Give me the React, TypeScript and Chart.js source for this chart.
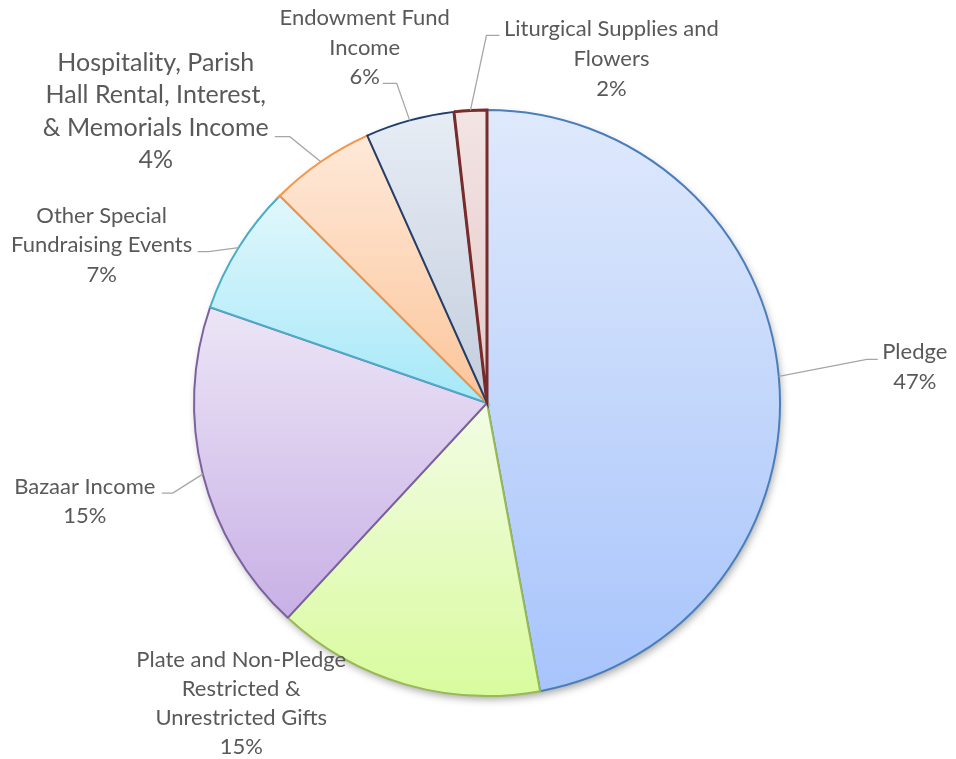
import React, { useEffect, useRef } from "react";
import { Chart, registerables } from "chart.js";

Chart.register(...registerables);

// ---------- data ----------
const categories = [
  "Pledge",
  "Plate and Non-Pledge Restricted & Unrestricted Gifts",
  "Bazaar Income",
  "Other Special Fundraising Events",
  "Hospitality, Parish Hall Rental, Interest, & Memorials Income",
  "Endowment Fund Income",
  "Liturgical Supplies and Flowers",
];
const values = [47.1, 14.8, 18.4, 7.2, 5.8, 4.9, 1.8];
const percentLabels = ["47%", "15%", "15%", "7%", "4%", "6%", "2%"];
const labelLines = [
  ["Pledge"],
  ["Plate and Non-Pledge", "Restricted &", "Unrestricted Gifts"],
  ["Bazaar Income"],
  ["Other Special", "Fundraising Events"],
  ["Hospitality, Parish", "Hall Rental, Interest,", "& Memorials Income"],
  ["Endowment Fund", "Income"],
  ["Liturgical Supplies and", "Flowers"],
];

// ---------- styles ----------
const topColors = ["#dfe9fc", "#f2fce4", "#ece5f6", "#e1f7fc", "#fee9d9", "#e7edf5", "#f3e4e4"];
const bottomColors = ["#a7c4fb", "#d9fb9e", "#c8b0e6", "#a6e8f8", "#fcc59a", "#c3cddd", "#e5c8c8"];
const borderColors = ["#4a7ebb", "#98b954", "#7d60a0", "#4aacc5", "#f59545", "#1f3f6e", "#772c2a"];
const borderWidths = [2, 2, 2, 2, 2, 2, 3];

// label layout relative to the slice's outer mid-point (anchor)
// dx: text centre x, dy: first line centre y, lh: line height, fs: font size
// leader: [elbowDx, elbowDy, endDx] or null
const labelLayout = [
  { dx: 136, dy: -24, lh: 30, fs: 22, leader: [88, -17, 99] },
  { dx: -164, dy: -24, lh: 29, fs: 22, leader: null },
  { dx: -118, dy: 13, lh: 29, fs: 22, leader: [-30, 19, -41] },
  { dx: -137, dy: -32, lh: 29.5, fs: 22, leader: [-30, 4, -41] },
  { dx: -165, dy: -99, lh: 32.5, fs: 25, leader: [-31, -25, -46] },
  { dx: -45, dy: -102, lh: 29.5, fs: 22, leader: [-13, -37, -27] },
  { dx: 141, dy: -82, lh: 30, fs: 22, leader: [16, -75, 29] },
];

const FONT = "Lato, 'Noto Sans', sans-serif";
const TEXT_COLOR = "#595959";
const LEADER_COLOR = "#a6a6a6";
const RADIUS = 293;

function sliceGradient(chart: any, index: number) {
  const area = chart.chartArea;
  if (!area) return topColors[index];
  const c = chart.ctx as CanvasRenderingContext2D;
  const cy = (area.top + area.bottom) / 2;
  const total = values.reduce((a, b) => a + b, 0);
  let start = 0;
  for (let i = 0; i < index; i++) start += (values[i] / total) * Math.PI * 2;
  const end = start + (values[index] / total) * Math.PI * 2;
  const ys = [cy, cy - RADIUS * Math.cos(start), cy - RADIUS * Math.cos(end)];
  if (start < Math.PI && end > Math.PI) ys.push(cy + RADIUS);
  if (start <= 0) ys.push(cy - RADIUS);
  const y0 = Math.min(...ys);
  const y1 = Math.max(...ys);
  const g = c.createLinearGradient(0, y0, 0, y1);
  g.addColorStop(0, topColors[index]);
  g.addColorStop(1, bottomColors[index]);
  return g;
}

const shadowPlugin = {
  id: "pieShadow",
  beforeDatasetsDraw(chart: any) {
    const meta = chart.getDatasetMeta(0);
    const arc = meta.data[0];
    if (!arc) return;
    const { x, y, outerRadius } = arc.getProps(["x", "y", "outerRadius"], true);
    const c = chart.ctx as CanvasRenderingContext2D;
    c.save();
    c.shadowColor = "rgba(0,0,0,0.38)";
    c.shadowBlur = 9;
    c.shadowOffsetX = 2;
    c.shadowOffsetY = 4;
    c.beginPath();
    c.arc(x, y, outerRadius - 1, 0, Math.PI * 2);
    c.fillStyle = "#ffffff";
    c.fill();
    c.restore();
  },
};

const labelPlugin = {
  id: "outsideLabels",
  afterDatasetsDraw(chart: any) {
    const meta = chart.getDatasetMeta(0);
    const c = chart.ctx as CanvasRenderingContext2D;
    meta.data.forEach((arc: any, i: number) => {
      const { x, y, startAngle, endAngle, outerRadius } = arc.getProps(
        ["x", "y", "startAngle", "endAngle", "outerRadius"],
        true
      );
      const mid = (startAngle + endAngle) / 2;
      const ax = x + Math.cos(mid) * outerRadius;
      const ay = y + Math.sin(mid) * outerRadius;
      const L = labelLayout[i];
      c.save();
      if (L.leader) {
        c.beginPath();
        c.moveTo(ax, ay);
        c.lineTo(ax + L.leader[0], ay + L.leader[1]);
        c.lineTo(ax + L.leader[2], ay + L.leader[1]);
        c.strokeStyle = LEADER_COLOR;
        c.lineWidth = 1.3;
        c.stroke();
      }
      c.font = `${L.fs}px ${FONT}`;
      c.fillStyle = TEXT_COLOR;
      c.textAlign = "center";
      c.textBaseline = "middle";
      const lines = [...labelLines[i], percentLabels[i]];
      lines.forEach((t, k) => {
        c.fillText(t, ax + L.dx, ay + L.dy + k * L.lh);
      });
      c.restore();
    });
  },
};

export default function App() {
  const ref = useRef<HTMLCanvasElement>(null);
  useEffect(() => {
    document.body.style.margin = "0";
    const canvas = ref.current;
    if (!canvas) return;
    const chart = new Chart(canvas, {
      type: "pie",
      data: {
        labels: categories,
        datasets: [
          {
            data: values,
            backgroundColor: (ctx: any) => sliceGradient(ctx.chart, ctx.dataIndex),
            borderColor: borderColors,
            borderWidth: borderWidths,
            borderJoinStyle: "miter",
            radius: RADIUS,
          } as any,
        ],
      },
      options: {
        responsive: false,
        animation: false,
        events: [],
        layout: { padding: { left: 194, right: 176, top: 110, bottom: 63 } },
        plugins: {
          legend: { display: false },
          tooltip: { enabled: false },
        },
      },
      plugins: [shadowPlugin, labelPlugin],
    });
    return () => chart.destroy();
  }, []);
  return (
    <div style={{ width: 956, height: 759, background: "#ffffff" }}>
      <canvas ref={ref} width={956} height={759} style={{ display: "block" }} />
    </div>
  );
}
